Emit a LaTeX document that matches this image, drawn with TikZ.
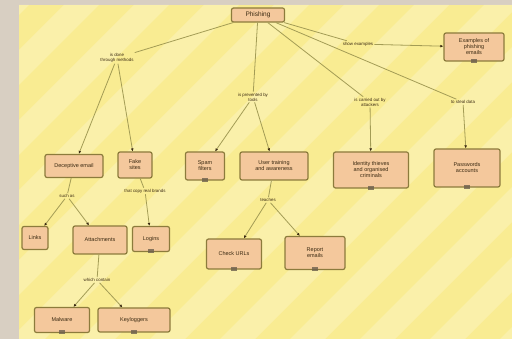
\documentclass[tikz,border=0pt]{standalone}
\usepackage{fontspec}
\setmainfont{Liberation Sans}
\usetikzlibrary{arrows.meta,positioning}
\definecolor{pagegray}{HTML}{D8CFC2}
\definecolor{mapyellow}{HTML}{F9EC92}
\definecolor{stripe}{HTML}{FDF5C8}
\definecolor{cfill}{HTML}{F4C89C}
\definecolor{cborder}{HTML}{8C7B3C}
\definecolor{cline}{HTML}{A39C55}
\definecolor{ctext}{HTML}{3B2A12}
\tikzstyle{concept}=[rectangle,rounded corners=2pt,draw=cborder,line width=1.2pt,fill=cfill,text=ctext,font=\fontsize{5.5}{6}\selectfont,align=center,inner sep=1.5pt]
\tikzstyle{link}=[text=ctext,font=\fontsize{4.4}{5}\selectfont,align=center,inner sep=1pt]
\tikzstyle{conn}=[draw=cline,line width=0.8pt]
\tikzstyle{arr}=[conn,-{Latex[length=3pt,width=2.8pt,color=ctext]}]
\tikzstyle{resicon}=[fill=ctext!75,opacity=0.8]

\begin{document}
\begin{tikzpicture}[x=1pt,y=-1pt]
  % background
  \fill[pagegray] (0,0) rectangle (512,339);
  \fill[mapyellow] (19,5) rectangle (512,339);
  \begin{scope}
    \clip (19,5) rectangle (512,339);
    \foreach \s in {0,70,...,840}
      \fill[stripe,opacity=0.45] (\s-340,339) -- (\s-305,339) -- (\s+29,5) -- (\s-6,5) -- cycle;
  \end{scope}
  \useasboundingbox (0,0) rectangle (512,339);

  % concepts
  \node[concept,minimum width=53pt,minimum height=14pt] (root) at (258,15) {\fontsize{6.5}{7}\selectfont Phishing};
  \node[concept,minimum width=60pt,minimum height=28pt] (examples) at (474,47) {Examples of\\phishing\\emails};
  \node[concept,minimum width=58pt,minimum height=23pt] (deceive) at (74,166) {Deceptive email};
  \node[concept,minimum width=34pt,minimum height=26pt] (fakesite) at (135,165) {Fake\\sites};
  \node[concept,minimum width=39pt,minimum height=28pt] (filters) at (205,166) {Spam\\filters};
  \node[concept,minimum width=68pt,minimum height=28pt] (training) at (274,166) {User training\\and awareness};
  \node[concept,minimum width=75pt,minimum height=36pt] (thieves) at (371,170) {Identity thieves\\and organised\\criminals};
  \node[concept,minimum width=66pt,minimum height=38pt] (accounts) at (467,168) {Passwords\\accounts};
  \node[concept,minimum width=26pt,minimum height=23pt] (links) at (35,238) {Links};
  \node[concept,minimum width=54pt,minimum height=28pt] (attach) at (100,240) {Attachments};
  \node[concept,minimum width=37pt,minimum height=25pt] (logins) at (151,239) {Logins};
  \node[concept,minimum width=55pt,minimum height=30pt] (urls) at (234,254) {Check URLs};
  \node[concept,minimum width=60pt,minimum height=33pt] (report) at (315,253) {Report\\emails};
  \node[concept,minimum width=55pt,minimum height=25pt] (malware) at (62,320) {Malware};
  \node[concept,minimum width=72pt,minimum height=24pt] (keylog) at (134,320) {Keyloggers};

  % linking phrases
  \node[link] (lshow) at (358,44) {show examples};
  \node[link] (lmeth) at (117,58) {is done\\through methods};
  \node[link] (lprev) at (253,97) {is prevented by\\tools};
  \node[link] (lcarr) at (370,102) {is carried out by\\attackers};
  \node[link] (lsteal) at (463,102) {to steal data};
  \node[link] (lsuch) at (67,196) {such as};
  \node[link] (lcopy) at (145,191) {that copy real brands};
  \node[link] (lteach) at (268,200) {teaches};
  \node[link] (lcont) at (97,280) {which contain};

  % connectors
  \draw[conn] (root) -- (lshow);
  \draw[arr] (lshow) -- (examples);
  \draw[conn] (root) -- (lmeth);
  \draw[conn] (root) -- (lprev);
  \draw[conn] (root) -- (lcarr);
  \draw[conn] (root) -- (lsteal);
  \draw[arr] (lmeth) -- (deceive);
  \draw[arr] (lmeth) -- (fakesite);
  \draw[arr] (lprev) -- (filters);
  \draw[arr] (lprev) -- (training);
  \draw[arr] (lcarr) -- (thieves);
  \draw[arr] (lsteal) -- (accounts);
  \draw[conn] (deceive) -- (lsuch);
  \draw[arr] (lsuch) -- (links);
  \draw[arr] (lsuch) -- (attach);
  \draw[conn] (fakesite) -- (lcopy);
  \draw[arr] (lcopy) -- (logins);
  \draw[conn] (training) -- (lteach);
  \draw[arr] (lteach) -- (urls);
  \draw[arr] (lteach) -- (report);
  \draw[conn] (attach) -- (lcont);
  \draw[arr] (lcont) -- (malware);
  \draw[arr] (lcont) -- (keylog);

  % resource icons
  \foreach \n in {examples,thieves,accounts,urls,report,malware,keylog,logins,filters}
    \fill[resicon] ([xshift=-3pt,yshift=-1pt]\n.south) rectangle ([xshift=3pt,yshift=3pt]\n.south);
\end{tikzpicture}
\end{document}
